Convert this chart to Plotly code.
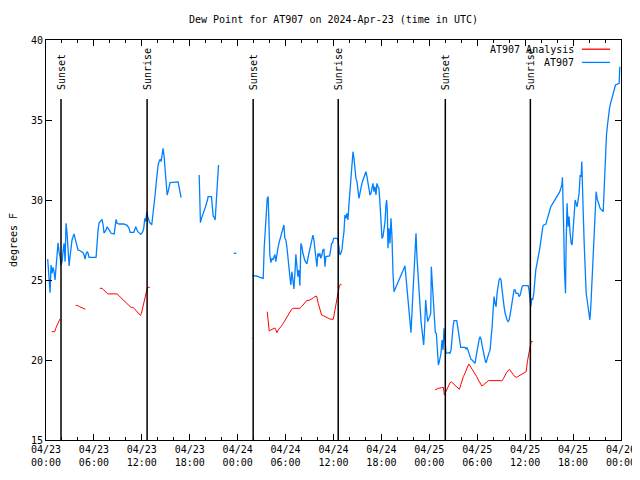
import pandas as pd
import plotly.graph_objects as go

BASE_DATE = "2024-04-23"
TITLE = "Dew Point for AT907 on 2024-Apr-23 (time in UTC)"
Y_LABEL = "degrees F"
SERIES_NAMES = ["AT907 Analysis", "AT907"]

# (hours since 2024-04-23 00:00 UTC, dew point F); separate lists = gaps in the record
BLUE_SEG1 = [(0.21,26.31),(0.30,25.73),(0.42,25.0),(0.51,24.21),(0.63,25.94),(0.76,25.42),(0.88,25.79),(1.01,25.52),
    (1.13,25.0),(1.26,25.73),(1.38,26.25),(1.51,27.33),(1.63,26.77),(1.76,26.46),(1.88,25.94),(2.01,26.15),
    (2.13,26.77),(2.26,27.29),(2.39,26.15),(2.51,28.54),(2.64,27.92),(2.76,26.77),(2.89,25.88),(3.01,26.46),
    (3.14,27.08),(3.26,27.5),(3.39,27.71),(3.51,27.88),(3.64,27.6),(3.76,27.29),(3.89,26.98),(4.01,26.88),
    (4.27,26.83),(4.52,26.77),(4.64,26.71),(4.77,26.56),(4.89,26.31),(5.02,26.63),(5.14,26.77),(5.27,26.67),
    (5.39,26.42),(6.27,26.42),(6.40,27.5),(6.52,28.13),(6.65,28.58),(7.02,28.79),(7.15,28.44),(7.27,27.92),
    (7.52,28.13),(7.65,28.33),(7.90,28.13),(8.15,27.92),(8.53,27.88),(8.65,28.44),(8.78,28.79),(8.90,28.54),
    (9.15,28.5),(9.74,28.5),(10.16,28.42),(10.41,28.23),(10.53,27.98),(10.99,27.98),(11.12,28.23),(11.24,28.33),
    (11.49,28.02),(11.74,27.92),(11.87,27.85),(12.12,28.02),(12.24,28.23),(12.37,28.85),(12.49,28.65),(12.62,29.27),
    (12.74,28.96),(12.99,28.58),(13.12,28.54),(13.24,28.44),(13.37,28.96),(13.45,29.48),(13.58,30.0),(13.66,30.31),
    (13.79,31.04),(13.91,31.77),(14.04,32.19),(14.16,32.4),(14.29,32.54),(14.41,32.4),(14.54,32.81),(14.66,33.23),
    (14.79,32.71),(14.91,31.88),(15.04,31.15),(15.17,30.31),(15.29,30.52),(15.42,30.83),(15.54,31.08),(16.54,31.13),
    (16.67,30.79),(16.79,30.25),(16.92,30.15)]
BLUE_SEG2 = [(19.18,31.56),(19.26,30.04),(19.34,28.58),(19.47,28.85),(19.72,29.17),(19.97,29.58),(20.22,30.0),
    (20.30,30.21),(20.72,30.21),(20.85,29.58),(20.93,29.0),(21.06,28.92),(21.18,28.75),(21.26,29.38),(21.39,30.42),
    (21.51,31.56),(21.60,32.19)]
BLUE_SEG3 = [(23.52,26.67),(23.85,26.67)]
BLUE_SEG4 = [(25.82,25.27),(26.36,25.25),(26.78,25.17),(27.20,25.10),(27.32,26.98),(27.45,28.23),(27.57,29.48),
    (27.70,30.10),(27.82,30.21),(27.91,28.23),(28.03,26.56),(28.16,26.08),(28.28,26.35),(28.41,26.25),(28.53,26.46),
    (28.66,26.6),(28.78,26.15),(28.91,26.67),(29.04,26.98),(29.16,27.29),(29.29,27.54),(29.41,27.71),(29.54,27.92),
    (29.66,28.23),(29.79,28.44),(29.91,27.6),(30.04,27.5),(30.16,27.08),(30.29,26.56),(30.41,26.04),(30.54,25.21),
    (30.66,24.69),(30.79,25.52),(30.92,25.0),(31.04,24.44),(31.17,25.42),(31.29,26.6),(31.42,25.83),(31.54,25.21),
    (31.67,25.63),(31.79,24.65),(31.92,27.29),(32.04,27.08),(32.17,26.67),(32.29,26.35),(32.42,26.21),(32.54,26.1),
    (32.67,26.0),(32.79,26.35),(32.92,26.67),(33.05,26.98),(33.17,27.4),(33.30,27.6),(33.42,27.81),(33.55,27.5),
    (33.67,26.98),(33.80,26.46),(33.92,25.83),(34.05,26.67),(34.17,26.46),(34.30,26.67),(34.42,26.35),(34.55,26.56),
    (34.67,26.88),(34.80,26.92),(34.93,25.83),(35.05,26.46),(35.51,26.5),(35.64,26.88),(35.76,27.29),(35.89,27.33),
    (36.01,27.6),(36.43,27.6),(36.55,27.5),(36.68,27.08),(36.80,26.56),(36.93,26.67),(37.06,26.88),(37.18,27.5),
    (37.31,28.02),(37.43,29.06),(37.56,28.85),(37.68,29.17),(37.81,28.75),(37.93,29.69),(38.06,30.73),(38.18,31.67),
    (38.31,32.08),(38.44,33.02),(38.56,32.6),(38.69,31.77),(38.81,31.35),(38.94,31.15),(39.06,30.73),(39.19,30.1),
    (39.31,30.42),(39.44,30.83),(39.56,31.04),(39.69,31.25),(39.81,31.46),(39.94,31.56),(40.06,31.77),(40.19,31.46),
    (40.32,31.04),(40.44,30.63),(40.57,30.31),(40.69,30.42),(40.82,30.83),(40.94,31.04),(41.07,30.52),(41.19,30.83),
    (41.32,30.31),(41.44,31.04),(41.57,30.83),(41.69,30.73),(41.82,29.79),(41.94,28.75),(42.07,27.6),(42.20,27.71),
    (42.32,28.13),(42.45,28.65),(42.57,29.69),(42.65,30.0),(42.74,29.27),(42.82,26.98),(42.95,28.23),(43.07,27.29),
    (43.20,28.85),(43.32,27.71),(43.45,25.42),(43.57,24.27),(44.95,25.88),(45.08,25.21),(45.20,24.58),(45.33,23.75),
    (45.45,23.23),(45.58,22.4),(45.70,21.71),(45.83,23.02),(45.95,24.17),(46.08,25.21),(46.21,26.35),(46.33,27.92),
    (46.46,26.35),(46.58,25.21),(46.71,24.06),(46.83,23.23),(46.96,22.4),(47.08,21.88),(47.21,21.35),(47.29,20.94),
    (47.42,22.08),(47.54,23.75),(47.67,23.02),(47.79,22.4),(48.04,22.71),(48.17,22.92),(48.25,25.83),(48.38,24.79),
    (48.50,23.75),(48.63,22.71),(48.75,21.71),(48.88,21.67),(49.00,20.83),(49.13,19.69),(49.25,19.9),(49.46,20.42),
    (49.59,21.25),(49.72,20.63),(49.84,21.98),(49.97,20.83),(50.09,20.42),(50.47,20.46),(50.59,20.42),(50.72,20.63),
    (50.84,21.46),(50.97,22.08),(51.09,22.46),(51.43,22.46),(51.55,22.08),(51.68,21.56),(51.80,21.15),(51.93,20.79),
    (52.47,20.79),(52.60,20.67),(52.72,20.79),(52.85,20.58),(52.97,20.52),(53.10,20.21),(53.22,20.04),(53.35,20.0),
    (53.48,19.9),(53.60,19.83),(53.73,19.79),(53.85,20.21),(53.98,20.63),(54.10,20.94),(54.23,21.25),(54.35,21.46),
    (54.48,21.29),(54.60,20.94),(54.73,20.52),(54.85,20.21),(54.98,20.0),(55.10,19.83),(55.23,20.10),(55.36,20.31),
    (55.48,20.46),(55.61,20.63),(55.73,21.15),(55.86,22.08),(55.98,23.02),(56.11,23.96),(56.23,23.54),(56.36,23.33),
    (56.48,24.17),(56.61,24.58),(56.73,25.0),(56.86,25.1),(56.98,25.0),(57.11,24.38),(57.23,23.75),(57.36,23.33),
    (57.49,22.92),(57.61,22.6),(57.74,22.5),(57.86,22.4),(57.99,22.5),(58.11,22.81),(58.24,23.23),(58.36,23.65),
    (58.49,24.0),(58.61,24.38),(58.74,24.38),(58.86,24.17),(59.11,24.17),(59.24,23.96),(59.37,24.06),(59.49,24.38),
    (59.62,24.58),(59.74,24.65),(60.37,24.65),(60.49,24.38),(60.62,23.75),(60.70,23.33),(60.83,23.85),(60.95,23.75),
    (61.08,24.17),(61.20,25.0),(61.33,25.63),(61.45,25.94),(61.58,26.25),(61.70,26.67),(61.83,26.98),(61.95,27.4),
    (62.08,27.92),(62.21,28.33),(62.33,28.44),(62.58,28.48),(62.71,28.71),(62.83,28.96),(62.96,29.17),(63.08,29.48),
    (63.21,29.58),(63.46,29.79),(63.71,30.0),(63.96,30.21),(64.21,30.42),(64.34,30.52),(64.46,30.73),(64.59,30.94),
    (64.67,31.42),(64.75,30.21),(64.84,27.81),(64.92,25.63),(65.05,24.17),(65.13,27.29),(65.25,29.79),(65.38,28.33),
    (65.50,28.96),(65.63,27.92),(65.76,27.29),(65.88,27.19),(66.01,28.13),(66.13,29.17),(66.26,30.0),(66.38,29.79),
    (66.51,29.58),(66.63,30.0),(66.76,30.42),(66.88,31.56),(67.01,31.46),(67.09,32.4),(67.18,31.35),(67.26,29.38),
    (67.39,27.29),(67.51,25.42),(67.64,24.17),(67.76,23.75),(67.89,23.33),(68.01,22.81),(68.10,22.5),(68.22,23.33),
    (68.35,24.9),(68.47,25.83),(68.60,27.29),(68.72,28.54),(68.81,30.0),(68.89,30.52),(69.01,30.1),(69.14,29.9),
    (69.26,29.69),(69.39,29.48),(69.77,29.27),(69.85,30.21),(69.93,32.08),(70.06,33.44),(70.18,34.06),(70.31,34.69),
    (70.43,35.31),(70.56,35.73),(70.69,36.04),(70.81,36.25),(70.94,36.46),(71.06,36.67),(71.19,36.88),(71.31,37.19),
    (71.77,37.29),(71.85,38.33)]

RED_SEG1 = [(0.72,21.77),(1.09,21.77),(1.22,21.98),(1.47,22.29),(1.72,22.54),(1.84,22.6)]
RED_SEG2 = [(3.72,23.42),(3.97,23.4),(4.22,23.33),(4.47,23.27),(4.72,23.21),(4.93,23.17)]
RED_SEG3 = [(6.73,24.48),(7.02,24.48),(7.23,24.38),(7.48,24.27),(7.73,24.13),(8.90,24.13),(9.03,24.06),(9.28,23.96),
    (9.53,23.83),(9.78,23.71),(10.03,23.58),(10.28,23.46),(10.49,23.38),(10.66,23.29),(10.91,23.29),(11.07,23.21),
    (11.24,23.13),(11.41,23.02),(11.62,22.92),(11.83,22.79),(11.95,22.92),(12.08,23.23),(12.20,23.54),(12.33,23.85),
    (12.45,24.17),(12.58,24.38),(12.70,24.54),(12.99,24.54)]
RED_SEG4 = [(25.78,21.35),(25.86,21.35)]
RED_SEG5 = [(27.70,23.02),(27.82,22.4),(27.95,21.81),(28.16,21.88),(28.41,21.94),(28.66,22.0),(28.78,21.88),(28.91,21.71),
    (29.08,21.88),(29.29,21.98),(29.49,22.13),(29.70,22.29),(29.91,22.46),(30.12,22.6),(30.33,22.81),(30.54,23.02),
    (30.75,23.17),(30.96,23.23),(31.79,23.23),(32.0,23.33),(32.21,23.44),(32.42,23.58),(32.63,23.71),(33.05,23.75),
    (33.25,23.79),(33.46,23.88),(33.67,23.96),(33.88,24.0),(34.09,23.54),(34.30,23.13),(34.51,22.81),(34.72,22.77),
    (35.13,22.65),(35.55,22.56),(35.97,22.54),(36.09,22.92),(36.22,23.23),(36.35,23.65),(36.47,23.96),(36.60,24.27),
    (36.72,24.58),(36.85,24.73),(37.01,24.73)]
RED_SEG6 = [(48.71,18.13),(49.13,18.23),(49.55,18.27),(49.76,18.29),(49.88,17.81),(50.09,18.02),(50.26,18.23),(50.43,18.44),
    (50.59,18.58),(50.76,18.63),(51.01,18.5),(51.26,18.38),(51.51,18.27),(51.76,18.17),(51.93,18.44),(52.10,18.75),
    (52.26,18.96),(52.43,19.13),(52.60,19.38),(52.77,19.58),(52.93,19.75),(53.10,19.63),(53.31,19.48),(53.52,19.33),
    (53.73,19.17),(53.93,18.96),(54.14,18.75),(54.35,18.54),(54.56,18.38),(54.77,18.44),(54.98,18.54),(55.19,18.65),
    (55.40,18.71),(56.86,18.71),(57.07,18.69),(57.28,18.85),(57.49,19.06),(57.69,19.23),(58.03,19.42),(58.20,19.27),
    (58.45,19.13),(58.70,18.96),(58.95,18.92),(59.20,19.0),(59.45,19.08),(59.70,19.17),(59.95,19.21),(60.12,19.27),
    (60.28,19.9),(60.45,20.42),(60.62,20.83),(60.74,21.15),(60.95,21.15)]

SUN_HOURS = [1.88, 12.66, 25.94, 36.59, 50.0, 60.65]
SUN_LABELS = ["Sunset", "Sunrise", "Sunset", "Sunrise", "Sunset", "Sunrise"]

Y_RANGE = [15, 40]
Y_TICKS = [15, 20, 25, 30, 35, 40]
X_TICK_HOURS = list(range(0, 73, 6))

BLUE = "#0080ff"
RED = "#ff0000"
FONT = "DejaVu Sans Mono"

# the page body has an 8px margin; size the figure so it fills the 640x480 window
FIG_W, FIG_H = 632, 472

base = pd.Timestamp(BASE_DATE)


def to_time(h):
    return base + pd.Timedelta(hours=h)


def join(segs):
    xs, ys = [], []
    for seg in segs:
        for h, v in seg:
            xs.append(to_time(h))
            ys.append(v)
        xs.append(None)
        ys.append(None)
    return xs, ys


bx, by = join([BLUE_SEG1, BLUE_SEG2, BLUE_SEG3, BLUE_SEG4])
rx, ry = join([RED_SEG1, RED_SEG2, RED_SEG3, RED_SEG4, RED_SEG5, RED_SEG6])

fig = go.Figure()
fig.add_trace(go.Scatter(x=bx, y=by, mode="lines", name=SERIES_NAMES[1],
                         line=dict(color=BLUE, width=1.3), connectgaps=False, showlegend=False))
fig.add_trace(go.Scatter(x=rx, y=ry, mode="lines", name=SERIES_NAMES[0],
                         line=dict(color=RED, width=1), connectgaps=False, showlegend=False))

shapes = []
annotations = []
for h, lab in zip(SUN_HOURS, SUN_LABELS):
    t = to_time(h)
    shapes.append(dict(type="line", xref="x", yref="paper", x0=t, x1=t, y0=0, y1=0.8525,
                       line=dict(color="black", width=1.5)))
    annotations.append(dict(x=t, y=0.87, xref="x", yref="paper", text=lab, showarrow=False,
                            textangle=-90, xanchor="center", yanchor="bottom",
                            font=dict(family=FONT, size=10, color="black")))

# gnuplot-style legend: text on the left, line sample on the right
legend_rows = [(SERIES_NAMES[0], RED, 0.977), (SERIES_NAMES[1], BLUE, 0.944)]
for name, col, yy in legend_rows:
    annotations.append(dict(x=0.921, y=yy, xref="paper", yref="paper", text=name, showarrow=False,
                            xanchor="right", yanchor="middle",
                            font=dict(family=FONT, size=10, color="black")))
    shapes.append(dict(type="line", xref="paper", yref="paper", x0=0.932, x1=0.981, y0=yy, y1=yy,
                       line=dict(color=col, width=1.3)))

tickvals = [to_time(h) for h in X_TICK_HOURS]
ticktext = [t.strftime("%m/%d<br>%H:%M") for t in tickvals]

fig.update_layout(
    width=FIG_W, height=FIG_H,
    margin=dict(l=38, r=19, t=32, b=40, autoexpand=False),
    paper_bgcolor="white", plot_bgcolor="white",
    font=dict(family=FONT, size=10, color="black"),
    title=dict(text=TITLE, x=(333.5 - 8) / FIG_W, xanchor="center", y=1 - 11 / FIG_H, yanchor="middle",
               font=dict(family=FONT, size=10, color="black")),
    shapes=shapes, annotations=annotations, showlegend=False,
)
fig.update_xaxes(
    type="date", range=[to_time(0), to_time(72)], automargin=False,
    tickmode="array", tickvals=tickvals, ticktext=ticktext,
    ticks="inside", ticklen=6, tickcolor="black", tickwidth=1,
    minor=dict(dtick=2 * 3600 * 1000, ticks="inside", ticklen=3, tickcolor="black", showgrid=False),
    showline=True, linecolor="black", linewidth=1, mirror="allticks",
    showgrid=False, zeroline=False, tickfont=dict(family=FONT, size=10),
)
fig.update_yaxes(
    range=Y_RANGE, tickmode="array", tickvals=Y_TICKS, ticktext=[str(v) for v in Y_TICKS],
    automargin=False,
    ticks="inside", ticklen=6, tickcolor="black", tickwidth=1,
    showline=True, linecolor="black", linewidth=1, mirror="allticks",
    showgrid=False, zeroline=False, tickfont=dict(family=FONT, size=10),
    title=dict(text=Y_LABEL, font=dict(family=FONT, size=10), standoff=12),
)

fig.write_html("out.html")
